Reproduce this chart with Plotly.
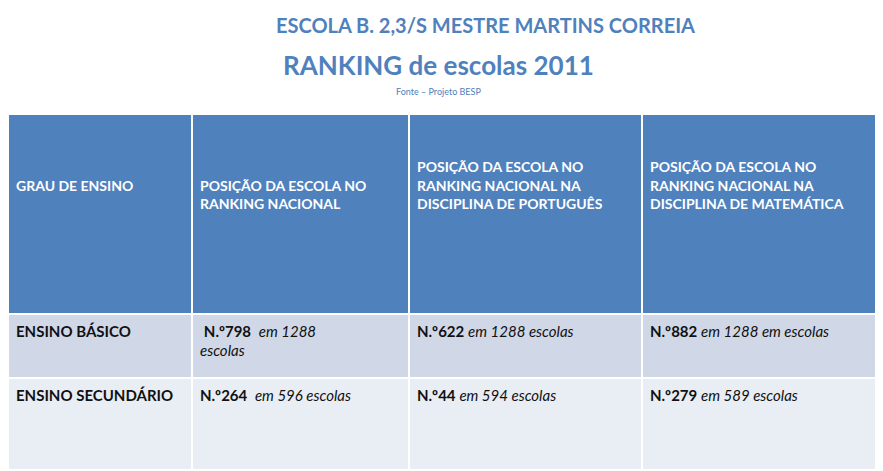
import plotly.graph_objects as go

title1 = "ESCOLA B. 2,3/S MESTRE MARTINS CORREIA"
title2 = "RANKING de escolas 2011"
source = "Fonte – Projeto BESP"
headers = ["GRAU DE ENSINO",
           "POSIÇÃO DA ESCOLA NO<br>RANKING NACIONAL",
           "POSIÇÃO DA ESCOLA NO<br>RANKING NACIONAL NA<br>DISCIPLINA DE PORTUGUÊS",
           "POSIÇÃO DA ESCOLA NO<br>RANKING NACIONAL NA<br>DISCIPLINA DE MATEMÁTICA"]
levels = ["ENSINO BÁSICO", "ENSINO SECUNDÁRIO"]
rank_national = ["798", "264"]
total_national = ["1288", "596"]
rank_pt = ["622", "44"]
total_pt = ["1288", "594"]
rank_mat = ["882", "279"]
total_mat = ["1288", "589"]

def lines_before(s, n):
    return " <br>" * n + "<b>" + s.replace("<br>", "</b><br><b>") + "</b>"

hdr_pad = [3, 3, 2, 2]
header_vals = [lines_before(h, p) for h, p in zip(headers, hdr_pad)]

col0 = ["<b>" + levels[0] + "</b>", "<b>" + levels[1] + "</b><br> <br> <br> "]
col1 = [f" <b>N.º{rank_national[0]}</b>  <i>em {total_national[0]}<br>escolas</i>",
        f"<b>N.º{rank_national[1]}</b>  <i>em {total_national[1]} escolas</i>"]
col2 = [f"<b>N.º{rank_pt[i]}</b> <i>em {total_pt[i]} escolas</i>" for i in range(2)]
col3 = [f"<b>N.º{rank_mat[0]}</b> <i>em {total_mat[0]} em escolas</i>",
        f"<b>N.º{rank_mat[1]}</b> <i>em {total_mat[1]} escolas</i>"]

fig = go.Figure(go.Table(
    domain=dict(x=[0, 1], y=[0.0, 0.775]),
    columnwidth=[184, 217, 233, 249],
    header=dict(values=header_vals, fill_color="#4F81BD", align="left",
                line=dict(color="white", width=2), height=200,
                font=dict(family="Lato", size=14, color="white")),
    cells=dict(values=[col0, col1, col2, col3],
               fill_color=[["#D0D8E8", "#E9EDF4"]] * 4, align="left",
               line=dict(color="white", width=2), height=64,
               font=dict(family="Lato", size=15, color="#111111")),
))
fig.add_annotation(text="<b>" + title1 + "</b>", x=0.541, y=1 - 17 / 471, xref="paper", yref="paper",
                   yanchor="middle", showarrow=False, font=dict(family="Lato", size=20, color="#4F81BD"))
fig.add_annotation(text="<b>" + title2 + "</b>", x=0.488, y=1 - 57 / 471, xref="paper", yref="paper",
                   yanchor="middle", showarrow=False, font=dict(family="Lato", size=26, color="#4F81BD"))
fig.add_annotation(text=source, x=0.488, y=1 - 84 / 471, xref="paper", yref="paper",
                   yanchor="middle", showarrow=False, font=dict(family="Lato", size=9, color="#4F81BD"))
fig.update_layout(width=883, height=471, margin=dict(l=0, r=0, t=0, b=0),
                  paper_bgcolor="white", plot_bgcolor="white")
fig.write_html("out.html")
